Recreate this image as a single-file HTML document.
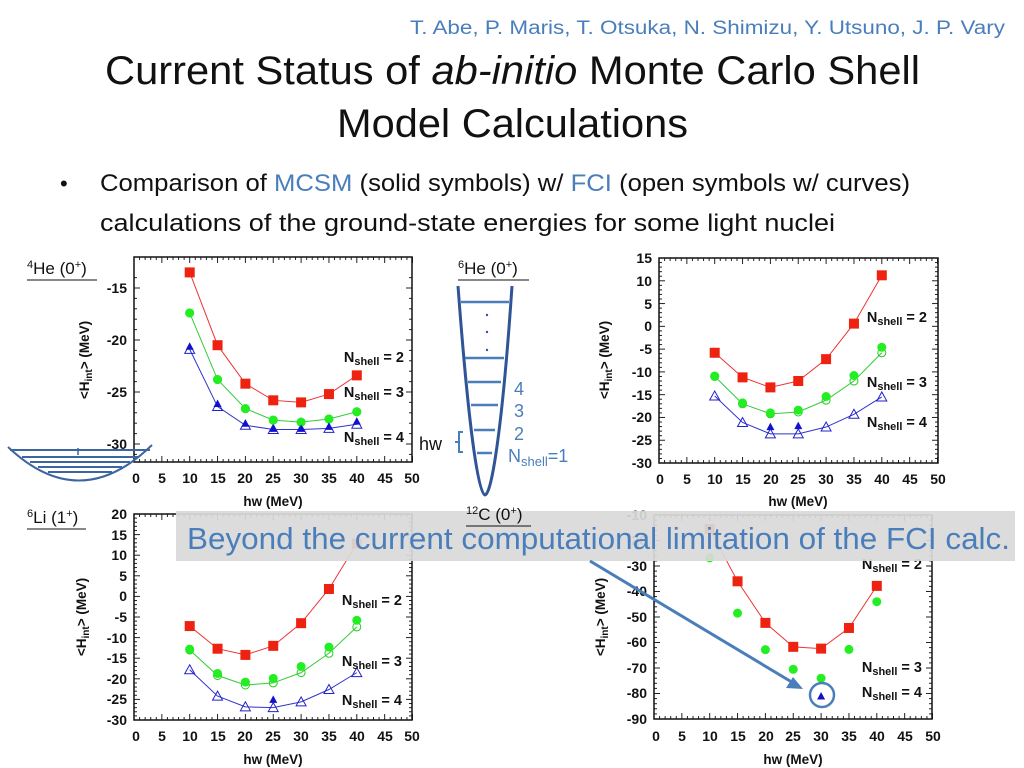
<!DOCTYPE html>
<html><head><meta charset="utf-8"><style>
body{margin:0;background:#fff;width:1024px;height:768px;overflow:hidden;font-family:"Liberation Sans",sans-serif}
svg{position:absolute;left:0;top:0}
.tk{font-size:14px;font-weight:bold;fill:#111}
.ax{font-size:13.5px;font-weight:bold;fill:#111}
.ns{font-size:14.5px;font-weight:bold;fill:#111}
.lb{font-size:17px;fill:#111}
</style></head><body>
<svg width="1024" height="768" viewBox="0 0 1024 768" id="s">
<text x="410" y="34" textLength="595" lengthAdjust="spacingAndGlyphs" style="font-size:19px;fill:#4a7ebb">T. Abe, P. Maris, T. Otsuka, N. Shimizu, Y. Utsuno, J. P. Vary</text>
<text x="105" y="84" textLength="815" lengthAdjust="spacingAndGlyphs" style="font-size:40px;fill:#111">Current Status of <tspan font-style="italic">ab-initio</tspan> Monte Carlo Shell</text>
<text x="337" y="137" textLength="351" lengthAdjust="spacingAndGlyphs" style="font-size:40px;fill:#111">Model Calculations</text>
<text x="60" y="191" style="font-size:22px;fill:#111">•</text>
<text x="100" y="191" textLength="810" lengthAdjust="spacingAndGlyphs" style="font-size:24px;fill:#111">Comparison of <tspan fill="#4a7ebb">MCSM</tspan> (solid symbols) w/ <tspan fill="#4a7ebb">FCI</tspan> (open symbols w/ curves)</text>
<text x="100" y="231" textLength="735" lengthAdjust="spacingAndGlyphs" style="font-size:24px;fill:#111">calculations of the ground-state energies for some light nuclei</text>

<g id="charts"></g>

<g class="tk" text-anchor="end">
<text x="127" y="293">-15</text><text x="127" y="345">-20</text><text x="127" y="397">-25</text><text x="127" y="449">-30</text>
<text x="652" y="263">15</text><text x="652" y="286">10</text><text x="652" y="309">5</text><text x="652" y="331">0</text><text x="652" y="354">-5</text><text x="652" y="377">-10</text><text x="652" y="400">-15</text><text x="652" y="422">-20</text><text x="652" y="445">-25</text><text x="652" y="468">-30</text>
<text x="127" y="519">20</text><text x="127" y="540">15</text><text x="127" y="560">10</text><text x="127" y="581">5</text><text x="127" y="601">0</text><text x="127" y="622">-5</text><text x="127" y="643">-10</text><text x="127" y="663">-15</text><text x="127" y="684">-20</text><text x="127" y="704">-25</text><text x="127" y="725">-30</text>
<text x="647" y="520">-10</text><text x="647" y="545">-20</text><text x="647" y="571">-30</text><text x="647" y="596">-40</text><text x="647" y="622">-50</text><text x="647" y="647">-60</text><text x="647" y="673">-70</text><text x="647" y="698">-80</text><text x="647" y="724">-90</text>
</g>
<g class="tk" text-anchor="middle">
<text x="136" y="483">0</text><text x="162" y="483">5</text><text x="190" y="483">10</text><text x="218" y="483">15</text><text x="245" y="483">20</text><text x="273" y="483">25</text><text x="301" y="483">30</text><text x="329" y="483">35</text><text x="357" y="483">40</text><text x="385" y="483">45</text><text x="412" y="483">50</text>
<text x="660" y="484">0</text><text x="687" y="484">5</text><text x="715" y="484">10</text><text x="743" y="484">15</text><text x="771" y="484">20</text><text x="798" y="484">25</text><text x="826" y="484">30</text><text x="854" y="484">35</text><text x="882" y="484">40</text><text x="910" y="484">45</text><text x="938" y="484">50</text>
<text x="136" y="741">0</text><text x="162" y="741">5</text><text x="190" y="741">10</text><text x="218" y="741">15</text><text x="245" y="741">20</text><text x="273" y="741">25</text><text x="301" y="741">30</text><text x="329" y="741">35</text><text x="357" y="741">40</text><text x="385" y="741">45</text><text x="412" y="741">50</text>
<text x="656" y="741">0</text><text x="682" y="741">5</text><text x="710" y="741">10</text><text x="738" y="741">15</text><text x="766" y="741">20</text><text x="793" y="741">25</text><text x="821" y="741">30</text><text x="849" y="741">35</text><text x="877" y="741">40</text><text x="905" y="741">45</text><text x="933" y="741">50</text>
</g>
<g class="ax" text-anchor="middle">
<text x="273" y="506">hw (MeV)</text><text x="798" y="506">hw (MeV)</text><text x="273" y="764">hw (MeV)</text><text x="793" y="764">hw (MeV)</text>
<text transform="translate(89,360) rotate(-90)">&lt;H<tspan font-size="10" dy="3">int</tspan><tspan dy="-3">&gt; (MeV)</tspan></text>
<text transform="translate(609,360) rotate(-90)">&lt;H<tspan font-size="10" dy="3">int</tspan><tspan dy="-3">&gt; (MeV)</tspan></text>
<text transform="translate(86,617) rotate(-90)">&lt;H<tspan font-size="10" dy="3">int</tspan><tspan dy="-3">&gt; (MeV)</tspan></text>
<text transform="translate(605,617) rotate(-90)">&lt;H<tspan font-size="10" dy="3">int</tspan><tspan dy="-3">&gt; (MeV)</tspan></text>
</g>
<g class="ns" text-anchor="end">
<text x="404" y="362">N<tspan font-size="11" dy="3">shell</tspan><tspan dy="-3"> = 2</tspan></text>
<text x="404" y="397">N<tspan font-size="11" dy="3">shell</tspan><tspan dy="-3"> = 3</tspan></text>
<text x="404" y="442">N<tspan font-size="11" dy="3">shell</tspan><tspan dy="-3"> = 4</tspan></text>
<text x="927" y="322">N<tspan font-size="11" dy="3">shell</tspan><tspan dy="-3"> = 2</tspan></text>
<text x="927" y="387">N<tspan font-size="11" dy="3">shell</tspan><tspan dy="-3"> = 3</tspan></text>
<text x="927" y="427">N<tspan font-size="11" dy="3">shell</tspan><tspan dy="-3"> = 4</tspan></text>
<text x="402" y="605">N<tspan font-size="11" dy="3">shell</tspan><tspan dy="-3"> = 2</tspan></text>
<text x="402" y="666">N<tspan font-size="11" dy="3">shell</tspan><tspan dy="-3"> = 3</tspan></text>
<text x="402" y="705">N<tspan font-size="11" dy="3">shell</tspan><tspan dy="-3"> = 4</tspan></text>
<text x="922" y="569">N<tspan font-size="11" dy="3">shell</tspan><tspan dy="-3"> = 2</tspan></text>
<text x="922" y="672">N<tspan font-size="11" dy="3">shell</tspan><tspan dy="-3"> = 3</tspan></text>
<text x="922" y="697">N<tspan font-size="11" dy="3">shell</tspan><tspan dy="-3"> = 4</tspan></text>
</g>
<g class="lb">
<text x="27" y="274"><tspan font-size="11" dy="-6">4</tspan><tspan dy="6">He (0</tspan><tspan font-size="11" dy="-6">+</tspan><tspan dy="6">)</tspan></text>
<line x1="27" y1="280" x2="97" y2="280" stroke="#111"/>
<text x="458" y="274"><tspan font-size="11" dy="-6">6</tspan><tspan dy="6">He (0</tspan><tspan font-size="11" dy="-6">+</tspan><tspan dy="6">)</tspan></text>
<line x1="458" y1="280" x2="529" y2="280" stroke="#111"/>
<text x="27" y="523"><tspan font-size="11" dy="-6">6</tspan><tspan dy="6">Li (1</tspan><tspan font-size="11" dy="-6">+</tspan><tspan dy="6">)</tspan></text>
<line x1="27" y1="529" x2="86" y2="529" stroke="#111"/>
</g>
<g stroke="#3d66a0" fill="none" stroke-width="2">
<path d="M8,447 Q80,515 152,445"/>
<line x1="10" y1="450" x2="150" y2="450"/><line x1="22" y1="457" x2="138" y2="457"/><line x1="30" y1="462" x2="130" y2="462"/><line x1="38" y1="467" x2="122" y2="467"/><line x1="48" y1="472" x2="112" y2="472"/>
<line x1="78" y1="448" x2="78" y2="455" stroke-width="1.5"/>
</g>
<g stroke="#2f5597" fill="none" stroke-width="3">
<path d="M458,286 C468,420 478,495 485,495 C492,495 503,420 512,286"/>
<g stroke="#4a7ebb" stroke-width="2.5">
<line x1="461" y1="302" x2="509" y2="302"/><line x1="465" y1="358" x2="504" y2="358"/><line x1="468" y1="382" x2="501" y2="382"/><line x1="471" y1="405" x2="498" y2="405"/><line x1="474" y1="430" x2="495" y2="430"/><line x1="477" y1="453" x2="492" y2="453"/>
</g>
<path d="M463,432 h-4 v20 h4 M459,442 h-4" stroke="#4a7ebb" stroke-width="2"/>
</g>
<g fill="#2f5597"><circle cx="487" cy="315" r="1.2"/><circle cx="487" cy="332" r="1.2"/><circle cx="487" cy="350" r="1.2"/></g>
<text x="419" y="450" style="font-size:18px;fill:#111">hw</text>
<g style="font-size:18px;fill:#4a7ebb">
<text x="514" y="395">4</text><text x="514" y="417">3</text><text x="514" y="440">2</text>
<text x="508" y="462">N<tspan font-size="13" dy="4">shell</tspan><tspan dy="-4">=1</tspan></text>
</g>
<rect x="176" y="511" width="839" height="50" fill="#d9d9d9" fill-opacity="0.93"/>
<text x="187" y="549" textLength="823" lengthAdjust="spacingAndGlyphs" style="font-size:31px;fill:#4a7ebb">Beyond the current computational limitation of the FCI calc.</text>
<g class="lb">
<text x="466" y="520"><tspan font-size="11" dy="-6">12</tspan><tspan dy="6">C (0</tspan><tspan font-size="11" dy="-6">+</tspan><tspan dy="6">)</tspan></text>
<line x1="466" y1="526" x2="531" y2="526" stroke="#111"/>
</g>
<line x1="590" y1="561" x2="795" y2="684" stroke="#4a7ebb" stroke-width="3"/>
<path d="M803,689 L786,688 L793,677 Z" fill="#4a7ebb"/>
<circle cx="822" cy="695" r="12" fill="none" stroke="#4a7ebb" stroke-width="2.5"/>
</svg>
<script>
var NS="http://www.w3.org/2000/svg",G=document.getElementById("charts");
function el(n,a){var e=document.createElementNS(NS,n);for(var k in a)e.setAttribute(k,a[k]);G.appendChild(e);return e;}
var X=[10,15,20,25,30,35,40];
var charts=[
{x0:134,L:134,R:412,T:257,B:462,y:function(v){return 288+(-15-v)*10.4},ymin:-31,ymax:-14,
 red:[-13.5,-20.5,-24.2,-25.8,-26,-25.2,-23.4],green:[-17.4,-23.8,-26.6,-27.7,-27.9,-27.6,-26.9],gopen:[-17.4,-23.8,-26.6,-27.7,-27.9,-27.6,-26.9],
 bopen:[-20.9,-26.4,-28.2,-28.6,-28.6,-28.5,-28.1],bsol:[[10,-20.6],[15,-26.1],[20,-28],[25,-28.5],[30,-28.5],[35,-28.3],[40,-27.8]],lines:true},
{x0:659,L:659,R:938,T:258,B:463,y:function(v){return 258+(15-v)*4.556},ymin:-30,ymax:15,
 red:[-5.8,-11.2,-13.4,-12,-7.2,0.6,11.2],green:[-10.9,-16.8,-19,-18.4,-15.4,-10.8,-4.6],gopen:[-11,-17,-19.2,-18.8,-16.2,-12,-5.8],
 bopen:[-15.3,-21.1,-23.6,-23.6,-22.1,-19.3,-15.5],bsol:[[20,-22],[25,-21.8]],lines:true},
{x0:134,L:134,R:412,T:514,B:720,y:function(v){return 514+(20-v)*4.12},ymin:-30,ymax:20,
 red:[-7.2,-12.7,-14.2,-12,-6.5,1.8,12.8],green:[-12.8,-18.7,-20.8,-19.9,-17,-12.3,-5.8],gopen:[-13,-19.2,-21.5,-21,-18.5,-13.8,-7.4],
 bopen:[-17.8,-24.2,-26.8,-27,-25.6,-22.6,-18.5],bsol:[[25,-25]],lines:true},
{x0:654,L:654,R:932,T:515,B:719,y:function(v){return 515+(-10-v)*2.55},ymin:-90,ymax:-10,
 red:[-15.5,-36,-52.3,-61.7,-62.4,-54.3,-37.8],green:[-26.8,-48.5,-62.8,-70.5,-74,-62.7,-44],bsol:[[30,-81]],lines:false}
];
charts.forEach(function(c){
 var xs=function(v){return c.x0+v*5.57};
 for(var v=0;v<=50;v++){var len=v%5?3:6;var x=xs(v);
  el("line",{x1:x,y1:c.B,x2:x,y2:c.B-len,stroke:"#222","stroke-width":1});
  el("line",{x1:x,y1:c.T,x2:x,y2:c.T+len,stroke:"#222","stroke-width":1});}
 var step=(c.ymax-c.ymin)>60?2:1;
 for(var v=Math.ceil(c.ymin);v<=c.ymax;v+=step){var maj=(v%5==0)&&((c.ymax-c.ymin)<60||v%10==0);var len=maj?6:3;var y=c.y(v);
  if(y<c.T-0.5||y>c.B+0.5)continue;
  el("line",{x1:c.L,y1:y,x2:c.L+len,y2:y,stroke:"#222"});el("line",{x1:c.R,y1:y,x2:c.R-len,y2:y,stroke:"#222"});}
 el("rect",{x:c.L,y:c.T,width:c.R-c.L,height:c.B-c.T,fill:"none",stroke:"#111","stroke-width":1.5});
 function pl(a,col){var p=a.map(function(v,i){return xs(X[i])+","+c.y(v)}).join(" ");el("polyline",{points:p,fill:"none",stroke:col,"stroke-width":1});}
 if(c.lines){pl(c.red,"#e33");pl(c.gopen,"#3c3");pl(c.bopen,"#33c");} else pl(c.red,"#e33");
 if(c.gopen)c.gopen.forEach(function(v,i){el("circle",{cx:xs(X[i]),cy:c.y(v),r:4,fill:"none",stroke:"#2c2"})});
 if(c.bopen)c.bopen.forEach(function(v,i){var x=xs(X[i]),y=c.y(v);el("path",{d:"M"+(x-5)+","+(y+4)+" L"+x+","+(y-5)+" L"+(x+5)+","+(y+4)+" Z",fill:"none",stroke:"#22c"})});
 c.red.forEach(function(v,i){el("rect",{x:xs(X[i])-5,y:c.y(v)-5,width:10,height:10,fill:"#e21"})});
 c.green.forEach(function(v,i){el("circle",{cx:xs(X[i]),cy:c.y(v),r:4.5,fill:"#2e2"})});
 c.bsol.forEach(function(p){var x=xs(p[0]),y=c.y(p[1]);el("path",{d:"M"+(x-4)+","+(y+3.5)+" L"+x+","+(y-4)+" L"+(x+4)+","+(y+3.5)+" Z",fill:"#11c"})});
});
</script>
</body></html>
